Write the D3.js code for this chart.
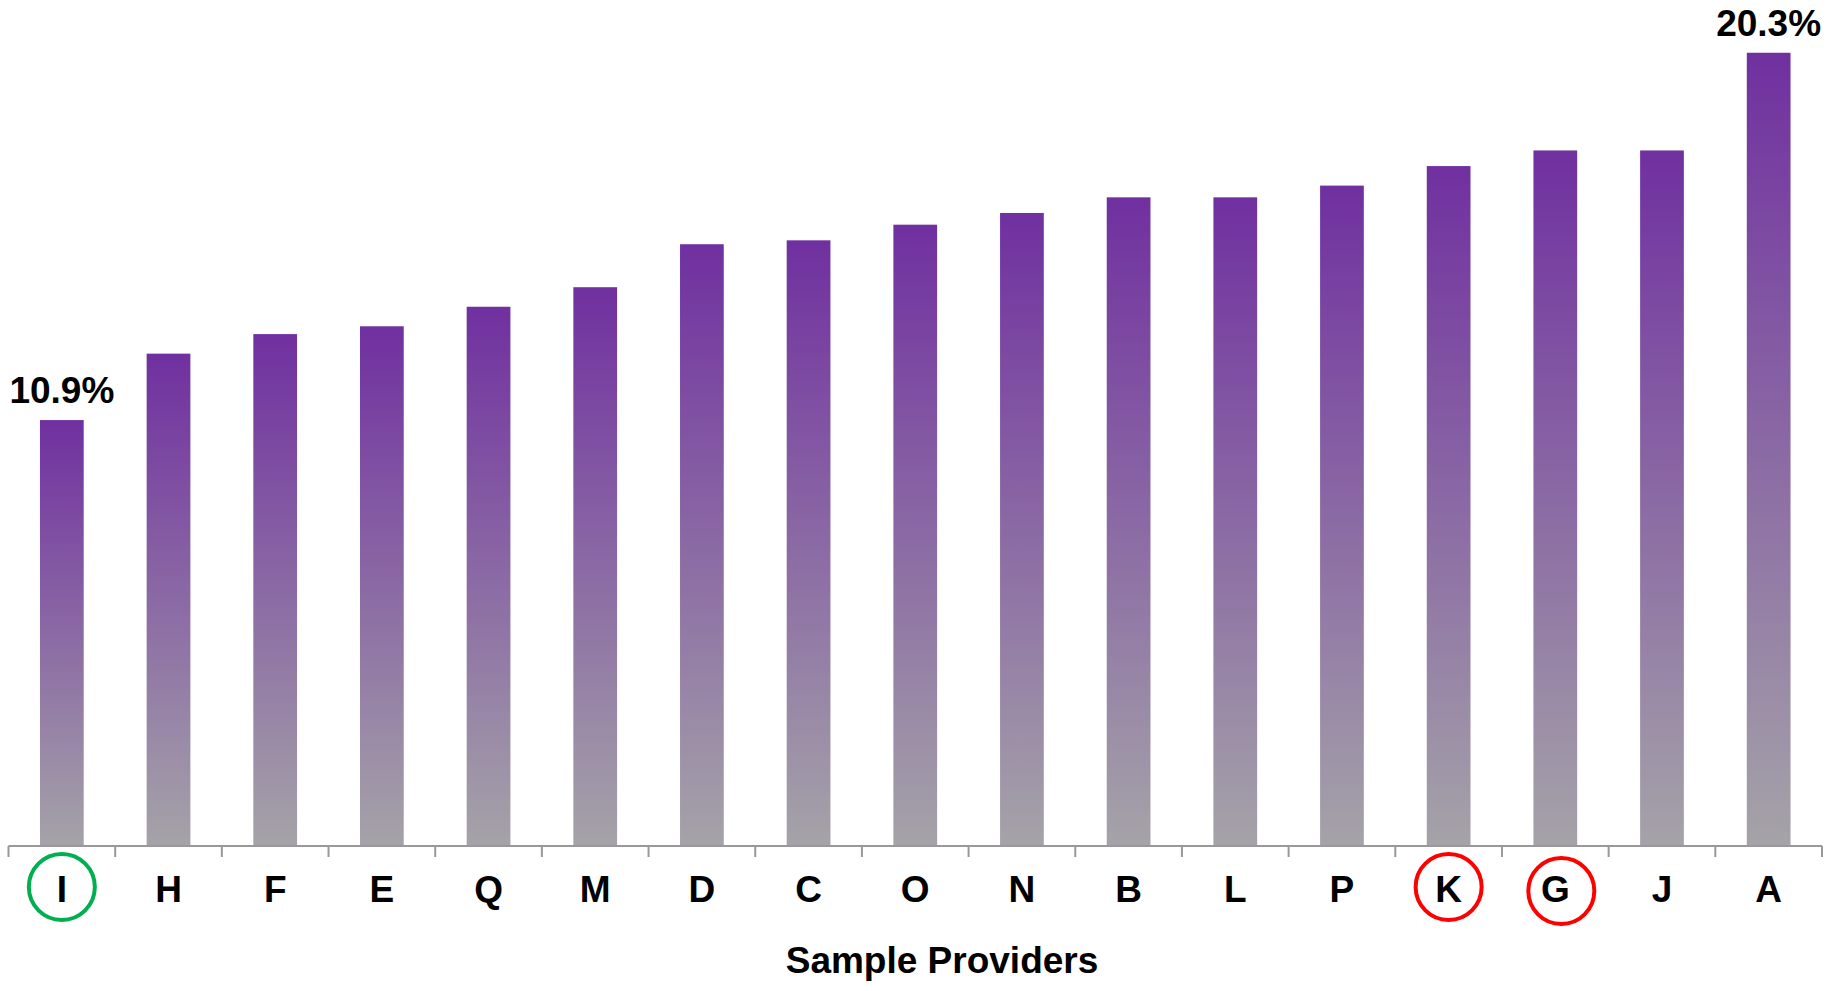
<!DOCTYPE html>
<html>
<head>
<meta charset="utf-8">
<script src="https://cdn.jsdelivr.net/npm/d3@7"></script>
<style>
  html, body { margin: 0; padding: 0; background: #ffffff; }
  svg { display: block; font-family: "Liberation Sans", Arial, sans-serif; }
</style>
</head>
<body>
<svg id="chart" width="1839" height="991"></svg>
<script>
// Providers, sorted by value
const categories = ["I", "H", "F", "E", "Q", "M", "D", "C", "O", "N", "B", "L", "P", "K", "G", "J", "A"];
const values = [10.9, 12.6, 13.1, 13.3, 13.8, 14.3, 15.4, 15.5, 15.9, 16.2, 16.6, 16.6, 16.9, 17.4, 17.8, 17.8, 20.3];
// Only the lowest and the highest bar carry a value label
const labelledCategories = ["I", "A"];
// Providers marked with a ring under the axis
const ringedCategories = ["I", "K", "G"];
const ringColors = ["#00B050", "#FF0000", "#FF0000"];
const axisTitle = "Sample Providers";

const svg = d3.select("#chart");
const baseY = 846;

const x = d3.scaleBand()
  .domain(categories)
  .range([8.5, 1822])
  .paddingInner(0.59)
  .paddingOuter(0.295);

const y = d3.scaleLinear()
  .domain([0, 21.65])
  .range([baseY, 0]);

// Vertical gradient: purple at the top fading to grey at the base
const defs = svg.append("defs");
const grad = defs.append("linearGradient")
  .attr("id", "barFill")
  .attr("x1", 0).attr("y1", 0)
  .attr("x2", 0).attr("y2", 1);
grad.append("stop").attr("offset", "0%").attr("stop-color", "#7030A0");
grad.append("stop").attr("offset", "100%").attr("stop-color", "#A5A3A8");

const data = categories.map((c, i) => ({ c, v: values[i] }));

svg.append("g")
  .selectAll("rect")
  .data(data)
  .join("rect")
  .attr("x", d => x(d.c))
  .attr("y", d => y(d.v))
  .attr("width", x.bandwidth())
  .attr("height", d => baseY - y(d.v))
  .attr("fill", "url(#barFill)");

// Category axis with ticks between the categories
const step = x.step();
const start = x.range()[0];
const boundaries = d3.range(categories.length + 1).map(i => start + i * step);

const axis = svg.append("g").attr("stroke", "#999999").attr("stroke-width", 2);
axis.append("line")
  .attr("x1", start).attr("x2", boundaries[boundaries.length - 1])
  .attr("y1", baseY).attr("y2", baseY);
axis.selectAll(".tick")
  .data(boundaries)
  .join("line")
  .attr("class", "tick")
  .attr("x1", d => d).attr("x2", d => d)
  .attr("y1", baseY).attr("y2", baseY + 11);

// Category labels
svg.append("g")
  .selectAll("text")
  .data(categories)
  .join("text")
  .attr("x", d => x(d) + x.bandwidth() / 2)
  .attr("y", 902)
  .attr("text-anchor", "middle")
  .attr("font-size", 37)
  .attr("font-weight", "bold")
  .attr("fill", "#000")
  .text(d => d);

// Value labels
svg.append("g")
  .selectAll("text")
  .data(data.filter(d => labelledCategories.includes(d.c)))
  .join("text")
  .attr("x", d => x(d.c) + x.bandwidth() / 2)
  .attr("y", d => y(d.v) - 17)
  .attr("text-anchor", "middle")
  .attr("font-size", 37)
  .attr("font-weight", "bold")
  .attr("fill", "#000")
  .text(d => d.v.toFixed(1) + "%");

// Rings around selected providers
const ringNudge = { G: [6, 4] };
svg.append("g")
  .selectAll("circle")
  .data(ringedCategories)
  .join("circle")
  .attr("cx", d => x(d) + x.bandwidth() / 2 + (ringNudge[d] ? ringNudge[d][0] : 0))
  .attr("cy", d => 887 + (ringNudge[d] ? ringNudge[d][1] : 0))
  .attr("r", 33)
  .attr("fill", "none")
  .attr("stroke", (d, i) => ringColors[i])
  .attr("stroke-width", 4);

// Axis title
svg.append("text")
  .attr("x", 942)
  .attr("y", 973)
  .attr("text-anchor", "middle")
  .attr("font-size", 37)
  .attr("font-weight", "bold")
  .attr("fill", "#000")
  .text(axisTitle);
</script>
</body>
</html>
